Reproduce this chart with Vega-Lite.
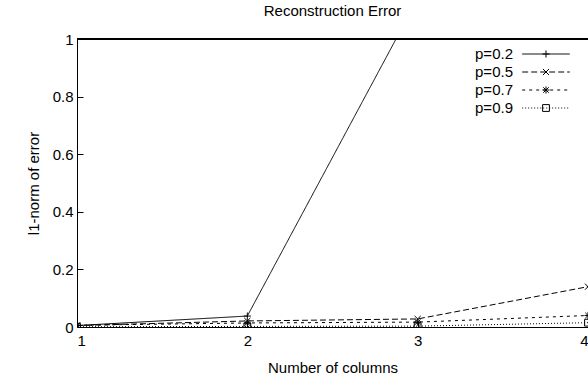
{
  "$schema": "https://vega.github.io/schema/vega-lite/v6.json",
  "width": 511,
  "height": 288,
  "autosize": "none",
  "padding": {"left": 77, "top": 39, "right": 0, "bottom": 54},
  "title": {
    "text": "Reconstruction Error",
    "font": "Liberation Sans",
    "fontSize": 15,
    "fontWeight": "normal",
    "color": "black",
    "anchor": "middle",
    "offset": 13
  },
  "config": {
    "view": {"stroke": null},
    "font": "Liberation Sans",
    "axis": {
      "domainColor": "black",
      "tickColor": "black",
      "tickSize": -6,
      "grid": false,
      "labelColor": "black",
      "labelFont": "Liberation Sans",
      "labelFontSize": 15,
      "titleColor": "black",
      "titleFont": "Liberation Sans",
      "titleFontSize": 15,
      "titleFontWeight": "normal"
    },
    "legend": {
      "labelFont": "Liberation Sans",
      "labelFontSize": 15,
      "labelColor": "black"
    }
  },
  "data": {
    "values": [
      {"cols": 1, "p": "p=0.2", "err": 0.005},
      {"cols": 2, "p": "p=0.2", "err": 0.038},
      {"cols": 3, "p": "p=0.2", "err": 1.14},
      {"cols": 1, "p": "p=0.5", "err": 0.005},
      {"cols": 2, "p": "p=0.5", "err": 0.021},
      {"cols": 3, "p": "p=0.5", "err": 0.028},
      {"cols": 4, "p": "p=0.5", "err": 0.14},
      {"cols": 1, "p": "p=0.7", "err": 0.006},
      {"cols": 2, "p": "p=0.7", "err": 0.014},
      {"cols": 3, "p": "p=0.7", "err": 0.017},
      {"cols": 4, "p": "p=0.7", "err": 0.04},
      {"cols": 1, "p": "p=0.9", "err": 0.001},
      {"cols": 2, "p": "p=0.9", "err": 0.002},
      {"cols": 3, "p": "p=0.9", "err": 0.003},
      {"cols": 4, "p": "p=0.9", "err": 0.015}
    ]
  },
  "layer": [
    {
      "mark": {"type": "rule", "color": "black", "strokeWidth": 1},
      "encoding": {"y": {"datum": 1, "type": "quantitative"}}
    },
    {
      "mark": {"type": "line", "clip": true, "color": "black", "strokeWidth": 1},
      "encoding": {
        "x": {
          "field": "cols",
          "type": "quantitative",
          "scale": {"domain": [1, 4]},
          "axis": {"values": [1, 2, 3, 4], "format": "d", "title": "Number of columns", "labelPadding": 12, "titlePadding": 12}
        },
        "y": {
          "field": "err",
          "type": "quantitative",
          "scale": {"domain": [0, 1]},
          "axis": {"values": [0, 0.2, 0.4, 0.6, 0.8, 1], "format": "~g", "title": "l1-norm of error", "labelPadding": 10, "titlePadding": 11}
        },
        "strokeDash": {
          "field": "p",
          "type": "nominal",
          "scale": {"range": [[1, 0], [6, 3], [3, 4], [1, 2]]},
          "legend": {
            "title": null,
            "orient": "none",
            "legendX": 460,
            "legendY": 6,
            "symbolType": "M-2.8,0H2.8",
            "symbolSize": 289,
            "symbolStrokeWidth": 1,
            "symbolStrokeColor": "black",
            "labelAlign": "right",
            "labelOffset": -42,
            "rowPadding": 1
          }
        }
      }
    },
    {
      "mark": {"type": "point", "clip": true, "filled": false, "color": "black", "size": 289, "strokeWidth": 1, "opacity": 1},
      "encoding": {
        "x": {"field": "cols", "type": "quantitative"},
        "y": {"field": "err", "type": "quantitative"},
        "shape": {
          "field": "p",
          "type": "nominal",
          "scale": {
            "domain": ["p=0.2", "p=0.5", "p=0.7", "p=0.9"],
            "range": [
              "M-0.42,0H0.42M0,-0.42V0.42",
              "M-0.36,-0.36L0.36,0.36M-0.36,0.36L0.36,-0.36",
              "M-0.42,0H0.42M0,-0.42V0.42M-0.32,-0.32L0.32,0.32M-0.32,0.32L0.32,-0.32",
              "M-0.4,-0.4H0.4V0.4H-0.4Z"
            ]
          },
          "legend": {
            "title": null,
            "orient": "none",
            "legendX": 460,
            "legendY": 6,
            "symbolSize": 289,
            "symbolStrokeWidth": 1,
            "symbolStrokeColor": "black",
            "symbolFillColor": "transparent",
            "labelExpr": "' '",
            "labelAlign": "right",
            "labelOffset": -42,
            "rowPadding": 1
          }
        }
      }
    }
  ]
}
